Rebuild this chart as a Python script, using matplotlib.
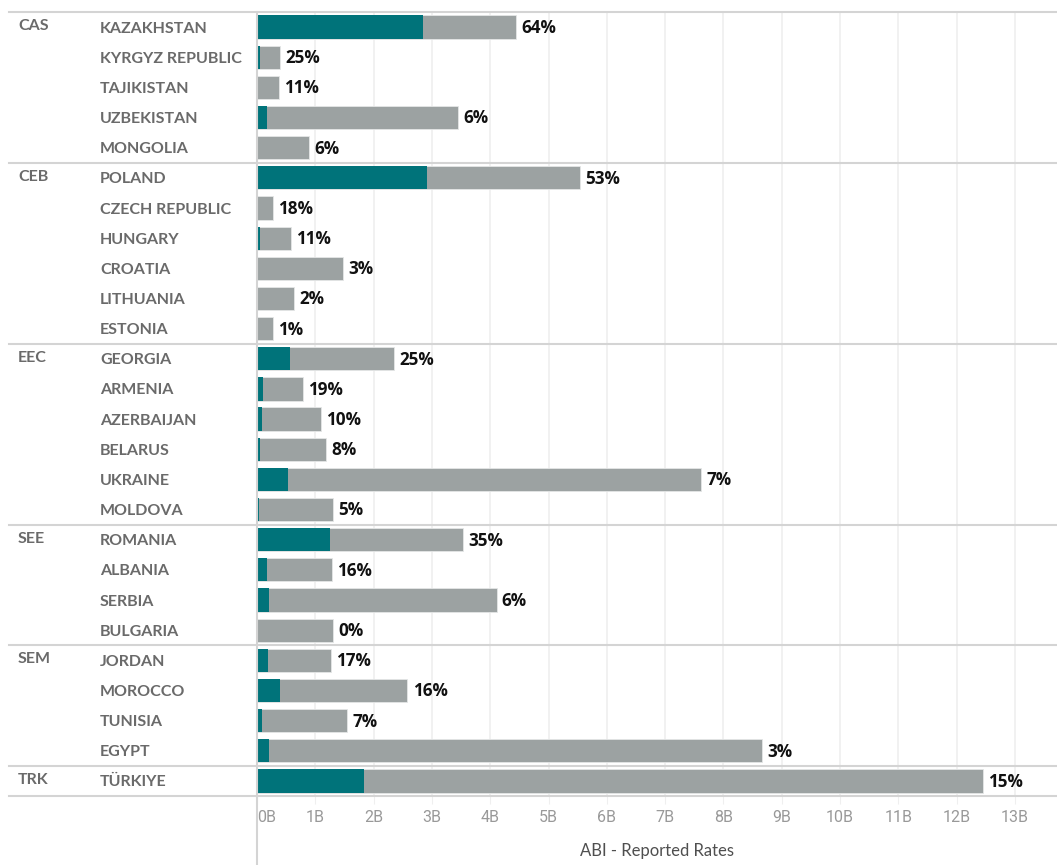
import matplotlib
matplotlib.use("Agg")
import matplotlib.pyplot as plt
from matplotlib.lines import Line2D

regions = ["CAS", "CEB", "EEC", "SEE", "SEM", "TRK"]
region_of = ["CAS"] * 5 + ["CEB"] * 6 + ["EEC"] * 6 + ["SEE"] * 4 + ["SEM"] * 4 + ["TRK"]
countries = ["KAZAKHSTAN", "KYRGYZ REPUBLIC", "TAJIKISTAN", "UZBEKISTAN", "MONGOLIA",
             "POLAND", "CZECH REPUBLIC", "HUNGARY", "CROATIA", "LITHUANIA", "ESTONIA",
             "GEORGIA", "ARMENIA", "AZERBAIJAN", "BELARUS", "UKRAINE", "MOLDOVA",
             "ROMANIA", "ALBANIA", "SERBIA", "BULGARIA",
             "JORDAN", "MOROCCO", "TUNISIA", "EGYPT",
             "TÜRKIYE"]
# values in billions
abi_part = [2.84, 0.06, 0.02, 0.18, 0.02,
            2.92, 0.00, 0.05, 0.02, 0.01, 0.00,
            0.56, 0.11, 0.08, 0.06, 0.54, 0.04,
            1.25, 0.18, 0.20, 0.00,
            0.19, 0.40, 0.09, 0.21,
            1.83]
totals = [4.44, 0.39, 0.37, 3.45, 0.89,
          5.54, 0.27, 0.58, 1.47, 0.63, 0.27,
          2.35, 0.79, 1.10, 1.19, 7.62, 1.30,
          3.54, 1.28, 4.11, 1.31,
          1.27, 2.58, 1.55, 8.66,
          12.45]
pct_labels = ["64%", "25%", "11%", "6%", "6%",
              "53%", "18%", "11%", "3%", "2%", "1%",
              "25%", "19%", "10%", "8%", "7%", "5%",
              "35%", "16%", "6%", "0%",
              "17%", "16%", "7%", "3%",
              "15%"]
tick_vals = list(range(0, 14))
tick_labels = [f"{v}B" for v in tick_vals]
x_title = "ABI - Reported Rates"

TEAL = "#00737A"
GREY = "#9CA2A2"
LBL = "#6A6A6A"
SEP = "#D4D4D4"
GRID = "#EFEFEF"

W, H = 1057, 865
fig = plt.figure(figsize=(W / 100, H / 100), dpi=100)
left_px, top_px, bottom_px = 257, 12, 796
ax = fig.add_axes([left_px / W, 1 - bottom_px / H, (W - left_px) / W, (bottom_px - top_px) / H])

n = len(countries)
ys = list(range(n))
ax.barh(ys, totals, height=0.77, color=GREY, edgecolor="#E4E6E6", linewidth=0.6, zorder=2)
ax.barh(ys, abi_part, height=0.77, color=TEAL, linewidth=0, zorder=3)
for y, t, lab in zip(ys, totals, pct_labels):
    ax.text(t + 0.09, y + 0.03, lab, va="center", ha="left", fontsize=12.3, fontweight="bold",
            color="#111111", family=["Open Sans", "DejaVu Sans"], zorder=4)

ax.set_ylim(n - 0.5, -0.5)
ax.set_xlim(0, (W - left_px) / 58.3)
ax.set_xticks(tick_vals)
ax.set_xticklabels(tick_labels)
ax.set_yticks([])
for s in ax.spines.values():
    s.set_visible(False)
ax.grid(axis="x", color=GRID, linewidth=1.2, zorder=0)
ax.tick_params(axis="x", length=6, color=GRID, labelsize=11.5, labelcolor="#999999", pad=4)
for lab in ax.get_xticklabels():
    lab.set_family(["Roboto", "DejaVu Sans"])
ax.get_xticklabels()[0].set_horizontalalignment("left")
ax.set_xlabel(x_title, fontsize=12, color="#4F4F4F", labelpad=13,
              family=["Lato", "DejaVu Sans"])

# group separators
row_px = (bottom_px - top_px) / n
starts = []
prev = None
for i, r in enumerate(region_of):
    if r != prev:
        starts.append(i)
        prev = r
fig_lines = []
for i in starts + [n]:
    ypx = top_px + i * row_px
    fig_lines.append(Line2D([9 / W, 1], [1 - ypx / H, 1 - ypx / H], color=SEP, lw=1.5,
                            transform=fig.transFigure))
fig_lines.append(Line2D([left_px / W, left_px / W], [0, 1 - top_px / H], color=SEP, lw=1.5,
                        transform=fig.transFigure))
for l in fig_lines:
    fig.add_artist(l)

lab_font = ["Lato", "DejaVu Sans"]
for i, c in enumerate(countries):
    ypx = top_px + (i + 0.5) * row_px + 1.5
    fig.text(100 / W, 1 - ypx / H, c, ha="left", va="center", fontsize=11.5,
             fontweight="bold", color=LBL, family=lab_font)
for i in starts:
    ypx = top_px + (i + 0.5) * row_px - 1
    fig.text(18 / W, 1 - ypx / H, region_of[i], ha="left", va="center", fontsize=11.5,
             fontweight="bold", color=LBL, family=lab_font)

fig.savefig("out.png", dpi=100)
